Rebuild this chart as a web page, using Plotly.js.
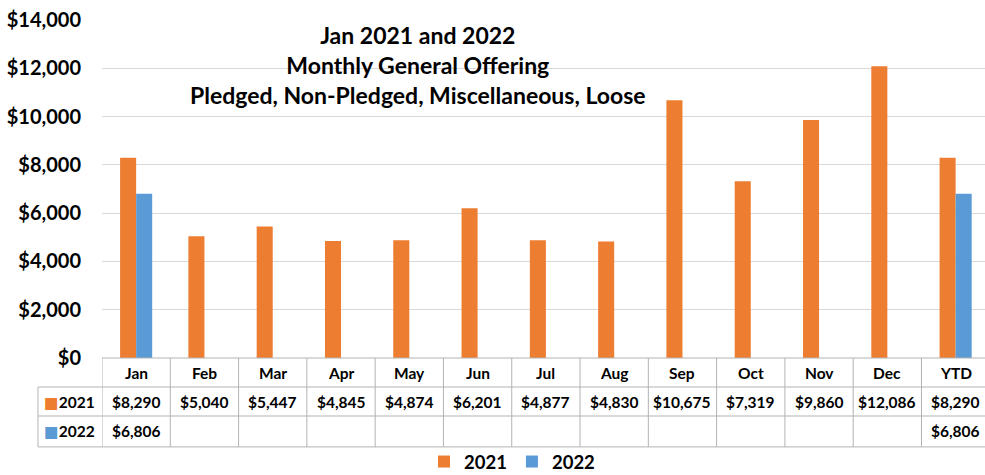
<!DOCTYPE html>
<html>
<head>
<meta charset="utf-8">
<script src="https://cdn.plot.ly/plotly-3.0.1.min.js"></script>
<style>html,body{margin:0;padding:0;background:#fff;}#chart{width:985px;height:475px;}</style>
</head>
<body>
<div id="chart"></div>
<script>
const categories = ['Jan','Feb','Mar','Apr','May','Jun','Jul','Aug','Sep','Oct','Nov','Dec','YTD'];
const seriesNames = ['2021','2022'];
const values2021 = [8290,5040,5447,4845,4874,6201,4877,4830,10675,7319,9860,12086,8290];
const values2022 = [6806,null,null,null,null,null,null,null,null,null,null,null,6806];
const titleLines = ['Jan 2021 and 2022','Monthly General Offering','Pledged, Non-Pledged, Miscellaneous, Loose'];

const colors = ['#ED7D31','#5B9BD5'];
const FONT = 'Lato, "DejaVu Sans", sans-serif';
const idx = categories.map((c,i)=>i);
const fmt = v => (v==null ? '' : '$' + v.toLocaleString('en-US'));

const traces = [values2021, values2022].map((vals,k)=>({
  type:'bar', x: idx, y: vals, name: seriesNames[k],
  marker:{color: colors[k]}, hoverinfo:'skip'
}));

// table geometry (paper coords below / left of plot)
const rowY = [0, -0.0858, -0.1716, -0.263];
const leftColPaper = -0.0725;
const lineColor = '#b3b3b3';
const shapes = [];
shapes.push({type:'line', xref:'paper', yref:'paper', x0:0, x1:1.01, y0:rowY[0], y1:rowY[0], line:{color:lineColor,width:1}});
for (let r=1;r<rowY.length;r++) shapes.push({type:'line', xref:'paper', yref:'paper', x0:leftColPaper, x1:1.01, y0:rowY[r], y1:rowY[r], line:{color:lineColor,width:1}});
for (let i=0;i<=categories.length;i++) shapes.push({type:'line', xref:'x', yref:'paper', x0:i-0.5, x1:i-0.5, y0:rowY[0], y1:rowY[3], line:{color:lineColor,width:1}});
shapes.push({type:'line', xref:'paper', yref:'paper', x0:leftColPaper, x1:leftColPaper, y0:rowY[1], y1:rowY[3], line:{color:lineColor,width:1}});

const annotations = [];
const cellFont = {family:FONT, size:15.5, color:'#000', weight:'bold'};
const rowMid = r => (rowY[r]+rowY[r+1])/2;
categories.forEach((c,i)=>{
  annotations.push({xref:'x', yref:'paper', x:i, y:rowMid(0), text:'<b>'+c+'</b>', showarrow:false, font:cellFont, xanchor:'center', yanchor:'middle'});
  annotations.push({xref:'x', yref:'paper', x:i, y:rowMid(1), text:'<b>'+fmt(values2021[i])+'</b>', showarrow:false, font:cellFont, xanchor:'center', yanchor:'middle'});
  if (values2022[i]!=null) annotations.push({xref:'x', yref:'paper', x:i, y:rowMid(2), text:'<b>'+fmt(values2022[i])+'</b>', showarrow:false, font:cellFont, xanchor:'center', yanchor:'middle'});
});
seriesNames.forEach((s,k)=>{
  annotations.push({xref:'paper', yref:'paper', x:leftColPaper/2, y:rowMid(k+1), text:'<span style="color:'+colors[k]+'">■</span><b>'+s+'</b>', showarrow:false, font:cellFont, xanchor:'center', yanchor:'middle'});
});
annotations.push({xref:'paper', yref:'paper', x:0.358, y:0.866, xanchor:'center', yanchor:'middle', showarrow:false,
  text:'<b>'+titleLines.join('<br>')+'</b>', font:{family:FONT, size:23, color:'#000'}});

const layout = {
  width:985, height:475,
  margin:{l:102, r:0, t:20, b:117},
  paper_bgcolor:'#fff', plot_bgcolor:'#fff',
  barmode:'group', bargap:0.53, bargroupgap:0,
  xaxis:{type:'linear', range:[-0.5, 12.43], showticklabels:false, showgrid:false, zeroline:false, showline:false, ticks:'', fixedrange:true},
  yaxis:{range:[0,14000], dtick:2000, tickprefix:'$', tickformat:',d', showgrid:true, gridcolor:'#d9d9d9', gridwidth:1, zeroline:false, showline:false,
         ticks:'outside', ticklen:16, tickcolor:'rgba(0,0,0,0)', tickfont:{family:FONT, size:20, color:'#000', weight:'bold'}},
  showlegend:true,
  legend:{orientation:'h', xref:'container', yref:'container', x:512/985, xanchor:'center', y:1-462/475, yanchor:'middle', bgcolor:'rgba(0,0,0,0)', font:{family:FONT, size:18.5, color:'#000', weight:'bold'}, itemwidth:30, traceorder:'normal'},
  shapes: shapes, annotations: annotations
};
Plotly.newPlot('chart', traces, layout, {displayModeBar:false, staticPlot:true});
</script>
</body>
</html>
